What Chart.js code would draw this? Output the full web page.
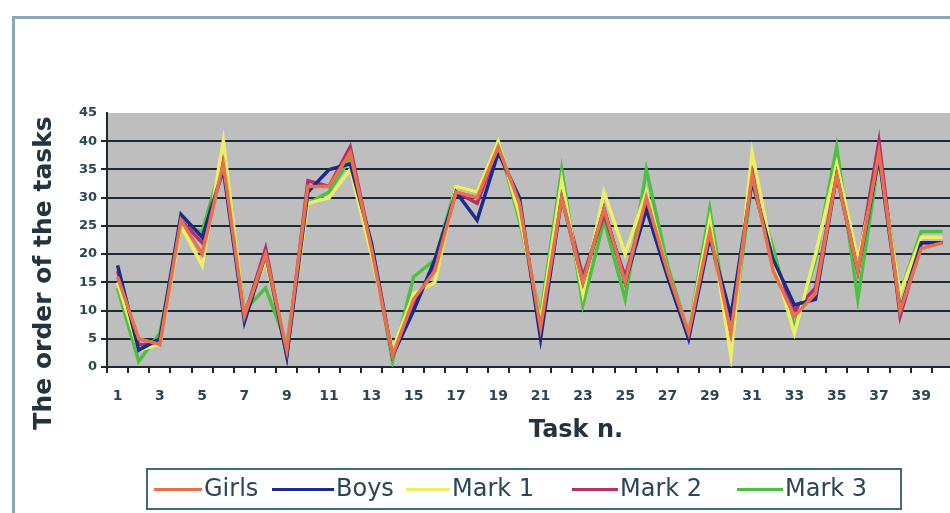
<!DOCTYPE html>
<html>
<head>
<meta charset="utf-8">
<script src="https://cdn.jsdelivr.net/npm/chart.js@4.4.1/dist/chart.umd.min.js"></script>
<style>
  html, body { margin: 0; padding: 0; background: #fff; overflow: hidden; width: 950px; height: 513px; }
  #frame { position: absolute; left: 12px; top: 16px; width: 960px; height: 520px;
           border-left: 3px solid #8ea7b4; border-top: 3px solid #8ea7b4; }
  #chart { position: absolute; left: 0; top: 0; }
  #legend { position: absolute; left: 146px; top: 468px; width: 752px; height: 38px;
            border: 2px solid #3f6a7c; font-family: "DejaVu Sans", sans-serif; font-size: 24px; color: #2a4658; }
  #legend .item { position: absolute; top: 4px; white-space: nowrap; }
  #legend .swatch { display: inline-block; vertical-align: middle; height: 3px; margin-right: 2px; }
</style>
</head>
<body>
<div id="frame"></div>
<canvas id="chart" width="960" height="513"></canvas>
<div id="legend"></div>
<script>
// tasks 1..40
const TASKS = Array.from({ length: 40 }, (_, i) => String(i + 1));

const SERIES_NAMES = ['Girls', 'Boys', 'Mark 1', 'Mark 2', 'Mark 3'];
const SERIES_COLORS = ['#e8704c', '#1c2a8c', '#eef064', '#b3306c', '#4cc040'];

const girls = [16, 5, 4, 26, 20, 36, 9, 20, 3, 32, 32, 38, 21, 2, 12, 17, 31, 30, 39, 29,
  7, 30, 15, 28, 15, 30, 17, 6, 24, 6, 34, 17, 9, 13, 34, 17, 38, 10, 21, 22];
const boys = [18, 3, 5, 27, 23, 35, 8, 20, 2, 31, 35, 36, 22, 2, 10, 19, 31, 26, 38, 30,
  5, 30, 15, 28, 15, 28, 16, 5, 23, 9, 33, 19, 11, 12, 34, 17, 37, 10, 22, 22];
const mark1 = [15, 3, 4, 25, 18, 40, 9, 19, 3, 29, 30, 35, 20, 3, 13, 15, 32, 31, 40, 27,
  8, 33, 13, 31, 20, 31, 17, 6, 26, 2, 38, 19, 6, 20, 36, 19, 36, 13, 23, 23];
const mark2 = [17, 4, 4, 26, 22, 37, 9, 21, 2, 33, 32, 39, 21, 2, 11, 18, 31, 29, 39, 28,
  7, 31, 16, 27, 16, 29, 17, 6, 24, 5, 35, 18, 10, 14, 34, 18, 40, 9, 22, 22];
const mark3 = [14, 1, 6, 25, 24, 37, 10, 14, 4, 29, 31, 37, 22, 1, 16, 19, 32, 31, 40, 26,
  9, 35, 11, 26, 12, 35, 18, 6, 28, 4, 33, 21, 7, 19, 39, 12, 37, 13, 24, 24];

const Y_TICKS_MAX = 45;
const Y_STEP = 5;

const DARK = '#1b2b30';
const TICK_COLOR = '#2a4555';

const seriesData = [girls, boys, mark1, mark2, mark3];

// gray plot area plus the two axis titles, drawn where the reference has them
const plotDecor = {
  id: 'plotDecor',
  beforeDraw(chart) {
    const { ctx, chartArea: a } = chart;
    ctx.save();
    ctx.fillStyle = '#bebebe';
    ctx.fillRect(a.left, a.top, a.right - a.left, a.bottom - a.top);
    ctx.restore();
  },
  afterDraw(chart) {
    const { ctx } = chart;
    ctx.save();
    ctx.fillStyle = '#22343f';
    ctx.textAlign = 'center';
    ctx.textBaseline = 'middle';
    ctx.font = 'bold 25px "DejaVu Sans"';
    ctx.translate(44, 273);
    ctx.rotate(-Math.PI / 2);
    ctx.fillText('The order of the tasks', 0, 0);
    ctx.restore();

    ctx.save();
    ctx.fillStyle = '#22343f';
    ctx.textAlign = 'center';
    ctx.textBaseline = 'middle';
    ctx.font = 'bold 24px "DejaVu Sans"';
    ctx.fillText('Task n.', 576, 431);
    ctx.restore();
  },
};

new Chart(document.getElementById('chart'), {
  type: 'line',
  data: {
    labels: TASKS,
    datasets: SERIES_NAMES.map((name, i) => ({
      label: name,
      data: seriesData[i],
      borderColor: SERIES_COLORS[i],
      borderWidth: 3.5,
      pointRadius: 0,
      tension: 0,
      fill: false,
    })),
  },
  options: {
    responsive: false,
    animation: false,
    layout: { padding: { left: 60, top: 113, right: 7, bottom: 106 } },
    plugins: { legend: { display: false }, tooltip: { enabled: false } },
    scales: {
      x: {
        offset: true,
        afterFit: s => { s.height = 40; },
        grid: { offset: true, drawOnChartArea: false, tickLength: 6, color: DARK, lineWidth: 2 },
        border: { color: DARK, width: 2 },
        ticks: {
          autoSkip: false,
          maxRotation: 0,
          padding: 15,
          color: TICK_COLOR,
          font: { family: 'DejaVu Sans', weight: 'bold', size: 14 },
          callback: (v, i) => (i % 2 === 0 ? TASKS[i] : ''),
        },
      },
      y: {
        min: 0,
        max: Y_TICKS_MAX,
        afterFit: s => { s.width = 47; },
        grid: {
          color: ctx => (ctx.tick && ctx.tick.value === Y_TICKS_MAX ? 'rgba(0,0,0,0)' : DARK),
          lineWidth: 2,
          tickLength: 6,
        },
        border: { color: DARK, width: 2 },
        ticks: {
          stepSize: Y_STEP,
          padding: 4,
          color: TICK_COLOR,
          font: { family: 'DejaVu Sans', weight: 'bold', size: 13 },
        },
      },
    },
  },
  plugins: [plotDecor],
});

// legend below the chart, in a framed box
const LEGEND_POS = [[6, 48], [124, 62], [258, 44], [424, 46], [589, 46]];
const legend = document.getElementById('legend');
SERIES_NAMES.forEach((name, i) => {
  const item = document.createElement('div');
  item.className = 'item';
  item.style.left = LEGEND_POS[i][0] + 'px';
  const sw = document.createElement('span');
  sw.className = 'swatch';
  sw.style.width = LEGEND_POS[i][1] + 'px';
  sw.style.background = SERIES_COLORS[i];
  item.appendChild(sw);
  item.appendChild(document.createTextNode(name));
  legend.appendChild(item);
});
</script>
</body>
</html>
